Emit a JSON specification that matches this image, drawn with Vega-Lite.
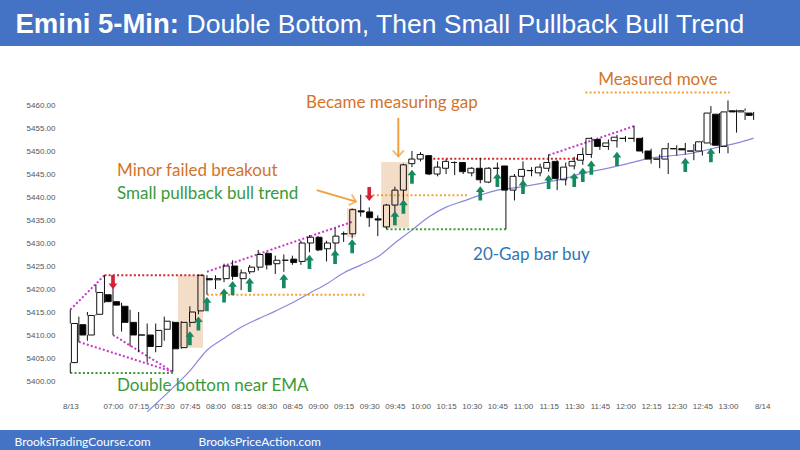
{
  "$schema": "https://vega.github.io/schema/vega-lite/v6.json",
  "width": 800,
  "height": 384,
  "autosize": {"type": "none"},
  "padding": {"top": 46, "bottom": 20, "left": 0, "right": 0},
  "background": "#4472C4",
  "config": {"view": {"fill": "white", "stroke": null}, "axis": {"grid": false}},
  "datasets": {
    "candles": [
      {"t":"2024-08-13T06:35Z","o":5404,"h":5415.5,"l":5401.75,"c":5412.5},
      {"t":"2024-08-13T06:40Z","o":5412.25,"h":5414,"l":5408.5,"c":5410},
      {"t":"2024-08-13T06:45Z","o":5410,"h":5415,"l":5408.75,"c":5414.25},
      {"t":"2024-08-13T06:50Z","o":5414.5,"h":5421,"l":5414.25,"c":5419.25},
      {"t":"2024-08-13T06:55Z","o":5418.75,"h":5423,"l":5417,"c":5417.25},
      {"t":"2024-08-13T07:00Z","o":5417.25,"h":5420.5,"l":5410,"c":5416.5},
      {"t":"2024-08-13T07:05Z","o":5416.25,"h":5417,"l":5410.75,"c":5412.75},
      {"t":"2024-08-13T07:10Z","o":5412.75,"h":5415.5,"l":5407.5,"c":5410},
      {"t":"2024-08-13T07:15Z","o":5410,"h":5415,"l":5406.25,"c":5410},
      {"t":"2024-08-13T07:20Z","o":5410,"h":5412.5,"l":5404,"c":5407.5},
      {"t":"2024-08-13T07:25Z","o":5407.5,"h":5412.5,"l":5406.25,"c":5411},
      {"t":"2024-08-13T07:30Z","o":5411.25,"h":5414,"l":5408.75,"c":5413},
      {"t":"2024-08-13T07:35Z","o":5412.75,"h":5413,"l":5402,"c":5407},
      {"t":"2024-08-13T07:40Z","o":5407.25,"h":5413,"l":5407,"c":5412.75},
      {"t":"2024-08-13T07:45Z","o":5412.75,"h":5416.25,"l":5411.75,"c":5415},
      {"t":"2024-08-13T07:50Z","o":5415.25,"h":5423,"l":5414.5,"c":5423},
      {"t":"2024-08-13T07:55Z","o":5422.25,"h":5423,"l":5418.75,"c":5422},
      {"t":"2024-08-13T08:00Z","o":5422,"h":5423,"l":5420,"c":5422.25},
      {"t":"2024-08-13T08:05Z","o":5422.25,"h":5425.5,"l":5421.5,"c":5425},
      {"t":"2024-08-13T08:10Z","o":5425,"h":5426.25,"l":5422,"c":5422.75},
      {"t":"2024-08-13T08:15Z","o":5422.25,"h":5424.25,"l":5419.75,"c":5423.5},
      {"t":"2024-08-13T08:20Z","o":5423.75,"h":5425.25,"l":5423.25,"c":5424.75},
      {"t":"2024-08-13T08:25Z","o":5424.75,"h":5428.5,"l":5424,"c":5427.5},
      {"t":"2024-08-13T08:30Z","o":5427.75,"h":5428,"l":5424.25,"c":5425.25},
      {"t":"2024-08-13T08:35Z","o":5425.5,"h":5427.25,"l":5423.25,"c":5426.25},
      {"t":"2024-08-13T08:40Z","o":5426.25,"h":5427.5,"l":5423.75,"c":5426.25},
      {"t":"2024-08-13T08:45Z","o":5426.5,"h":5427.25,"l":5425.25,"c":5425.75},
      {"t":"2024-08-13T08:50Z","o":5426,"h":5430.5,"l":5425.25,"c":5430},
      {"t":"2024-08-13T08:55Z","o":5430,"h":5431.75,"l":5428,"c":5431.25},
      {"t":"2024-08-13T09:00Z","o":5431.25,"h":5431.5,"l":5428.25,"c":5428.5},
      {"t":"2024-08-13T09:05Z","o":5428.75,"h":5430.5,"l":5426,"c":5430},
      {"t":"2024-08-13T09:10Z","o":5430,"h":5433.25,"l":5428,"c":5431.5},
      {"t":"2024-08-13T09:15Z","o":5432,"h":5432.5,"l":5430.25,"c":5432},
      {"t":"2024-08-13T09:20Z","o":5432,"h":5437.5,"l":5431,"c":5437.25},
      {"t":"2024-08-13T09:25Z","o":5437,"h":5440.5,"l":5435.75,"c":5436.75},
      {"t":"2024-08-13T09:30Z","o":5436.75,"h":5437.75,"l":5433.5,"c":5435.5},
      {"t":"2024-08-13T09:35Z","o":5435.25,"h":5436,"l":5431.5,"c":5435},
      {"t":"2024-08-13T09:40Z","o":5433.5,"h":5438.5,"l":5433,"c":5438.25},
      {"t":"2024-08-13T09:45Z","o":5438.25,"h":5442.25,"l":5436.75,"c":5441.5},
      {"t":"2024-08-13T09:50Z","o":5441.5,"h":5447.25,"l":5439,"c":5447},
      {"t":"2024-08-13T09:55Z","o":5447.25,"h":5450,"l":5446.5,"c":5448.25},
      {"t":"2024-08-13T10:00Z","o":5448.25,"h":5449.75,"l":5447.75,"c":5449.25},
      {"t":"2024-08-13T10:05Z","o":5449,"h":5449,"l":5444.75,"c":5445},
      {"t":"2024-08-13T10:10Z","o":5445,"h":5447.75,"l":5444.5,"c":5446.5},
      {"t":"2024-08-13T10:15Z","o":5446.25,"h":5448.25,"l":5445,"c":5447.75},
      {"t":"2024-08-13T10:20Z","o":5447.5,"h":5447.75,"l":5444.75,"c":5447.5},
      {"t":"2024-08-13T10:25Z","o":5447.5,"h":5447.5,"l":5445,"c":5445.5},
      {"t":"2024-08-13T10:30Z","o":5445.25,"h":5446.5,"l":5444.5,"c":5446.25},
      {"t":"2024-08-13T10:35Z","o":5446.25,"h":5448.5,"l":5443,"c":5443.75},
      {"t":"2024-08-13T10:40Z","o":5443.25,"h":5446.5,"l":5443,"c":5446.25},
      {"t":"2024-08-13T10:45Z","o":5446.25,"h":5447.5,"l":5445,"c":5446.25},
      {"t":"2024-08-13T10:50Z","o":5446.75,"h":5446.75,"l":5433,"c":5441.5},
      {"t":"2024-08-13T10:55Z","o":5441.5,"h":5445,"l":5439.25,"c":5444.5},
      {"t":"2024-08-13T11:00Z","o":5444.5,"h":5447.75,"l":5443.25,"c":5446},
      {"t":"2024-08-13T11:05Z","o":5445.75,"h":5446.5,"l":5444.5,"c":5445.75},
      {"t":"2024-08-13T11:10Z","o":5445.25,"h":5447.25,"l":5444.5,"c":5446.5},
      {"t":"2024-08-13T11:15Z","o":5446.25,"h":5449.25,"l":5445.5,"c":5447.5},
      {"t":"2024-08-13T11:20Z","o":5447.75,"h":5448,"l":5441.5,"c":5444},
      {"t":"2024-08-13T11:25Z","o":5443.75,"h":5447.5,"l":5442.5,"c":5446.5},
      {"t":"2024-08-13T11:30Z","o":5446.75,"h":5448.75,"l":5446,"c":5447.75},
      {"t":"2024-08-13T11:35Z","o":5448,"h":5450.75,"l":5447,"c":5449.25},
      {"t":"2024-08-13T11:40Z","o":5449.25,"h":5453,"l":5448.5,"c":5452.75},
      {"t":"2024-08-13T11:45Z","o":5452.5,"h":5452.75,"l":5450.25,"c":5451},
      {"t":"2024-08-13T11:50Z","o":5451,"h":5452.5,"l":5450.25,"c":5451.75},
      {"t":"2024-08-13T11:55Z","o":5452.25,"h":5453.5,"l":5450.75,"c":5453},
      {"t":"2024-08-13T12:00Z","o":5452.75,"h":5453.25,"l":5452,"c":5452.75},
      {"t":"2024-08-13T12:05Z","o":5452.75,"h":5455.5,"l":5452,"c":5452.75},
      {"t":"2024-08-13T12:10Z","o":5452.75,"h":5453,"l":5449.5,"c":5450},
      {"t":"2024-08-13T12:15Z","o":5450,"h":5450.5,"l":5447.25,"c":5448.25},
      {"t":"2024-08-13T12:20Z","o":5448.25,"h":5449.25,"l":5446.25,"c":5448.25},
      {"t":"2024-08-13T12:25Z","o":5448.25,"h":5451.75,"l":5445,"c":5450.5},
      {"t":"2024-08-13T12:30Z","o":5450.5,"h":5451.25,"l":5449,"c":5450.5},
      {"t":"2024-08-13T12:35Z","o":5450.5,"h":5451.75,"l":5449.25,"c":5450.25},
      {"t":"2024-08-13T12:40Z","o":5450,"h":5451.5,"l":5448,"c":5450},
      {"t":"2024-08-13T12:45Z","o":5450,"h":5452.25,"l":5449,"c":5452},
      {"t":"2024-08-13T12:50Z","o":5451.75,"h":5459.75,"l":5451.25,"c":5458.25},
      {"t":"2024-08-13T12:55Z","o":5458,"h":5458.25,"l":5449.5,"c":5451.25},
      {"t":"2024-08-13T13:00Z","o":5451,"h":5461,"l":5449.5,"c":5458.5},
      {"t":"2024-08-13T13:05Z","o":5458.75,"h":5459,"l":5454,"c":5458.5},
      {"t":"2024-08-13T13:10Z","o":5458.5,"h":5459.25,"l":5456.75,"c":5458.75},
      {"t":"2024-08-13T13:15Z","o":5458.25,"h":5458.5,"l":5456.75,"c":5457.75}
    ],
    "ema": [
      {"t":"2024-08-13T07:20Z","p":5393.3},{"t":"2024-08-13T07:25Z","p":5395},{"t":"2024-08-13T07:35Z","p":5398.5},{"t":"2024-08-13T07:45Z","p":5402.2},
      {"t":"2024-08-13T07:55Z","p":5406.7},{"t":"2024-08-13T08:05Z","p":5409.3},{"t":"2024-08-13T08:15Z","p":5411.7},{"t":"2024-08-13T08:25Z","p":5413.5},
      {"t":"2024-08-13T08:35Z","p":5415.2},{"t":"2024-08-13T08:45Z","p":5417},{"t":"2024-08-13T08:55Z","p":5419.1},{"t":"2024-08-13T09:05Z","p":5421.1},
      {"t":"2024-08-13T09:15Z","p":5423.5},{"t":"2024-08-13T09:25Z","p":5425.2},{"t":"2024-08-13T09:35Z","p":5427},{"t":"2024-08-13T09:45Z","p":5430},
      {"t":"2024-08-13T09:55Z","p":5432.8},{"t":"2024-08-13T10:05Z","p":5435.7},{"t":"2024-08-13T10:15Z","p":5437.8},{"t":"2024-08-13T10:25Z","p":5439.1},
      {"t":"2024-08-13T10:35Z","p":5440.4},{"t":"2024-08-13T10:45Z","p":5441.5},{"t":"2024-08-13T10:55Z","p":5442},{"t":"2024-08-13T11:05Z","p":5442.6},
      {"t":"2024-08-13T11:15Z","p":5443.3},{"t":"2024-08-13T11:25Z","p":5444.1},{"t":"2024-08-13T11:35Z","p":5445.2},{"t":"2024-08-13T11:45Z","p":5445.9},
      {"t":"2024-08-13T11:55Z","p":5446.7},{"t":"2024-08-13T12:05Z","p":5447.6},{"t":"2024-08-13T12:15Z","p":5448.5},{"t":"2024-08-13T12:25Z","p":5448.9},
      {"t":"2024-08-13T12:35Z","p":5449.3},{"t":"2024-08-13T12:45Z","p":5450},{"t":"2024-08-13T12:55Z","p":5450.9},{"t":"2024-08-13T13:05Z","p":5451.7},
      {"t":"2024-08-13T13:15Z","p":5452.8}
    ],
    "shades": [
      {"t":"2024-08-13T07:38:00Z","t2":"2024-08-13T07:52:40Z","p":5407.25,"p2":5423},
      {"t":"2024-08-13T09:17:00Z","t2":"2024-08-13T09:22:15Z","p":5431.3,"p2":5437.6},
      {"t":"2024-08-13T09:37:00Z","t2":"2024-08-13T09:53:15Z","p":5433.3,"p2":5447.6}
    ],
    "segs": [
      {"t":"2024-08-13T06:35:00Z","p":5415.5,"t2":"2024-08-13T06:55:00Z","p2":5423,"k":"m"},
      {"t":"2024-08-13T06:40:00Z","p":5408.5,"t2":"2024-08-13T07:35:00Z","p2":5402,"k":"m"},
      {"t":"2024-08-13T07:00:00Z","p":5410,"t2":"2024-08-13T07:35:00Z","p2":5402,"k":"m"},
      {"t":"2024-08-13T07:55:00Z","p":5423.75,"t2":"2024-08-13T09:20:00Z","p2":5434.6,"k":"m"},
      {"t":"2024-08-13T11:15:00Z","p":5449.1,"t2":"2024-08-13T12:05:00Z","p2":5455.4,"k":"m"},
      {"t":"2024-08-13T06:55:00Z","p":5423,"t2":"2024-08-13T07:54:00Z","p2":5423,"k":"r"},
      {"t":"2024-08-13T10:07:30Z","p":5448.3,"t2":"2024-08-13T11:33:00Z","p2":5448.3,"k":"r"},
      {"t":"2024-08-13T07:55:00Z","p":5418.75,"t2":"2024-08-13T09:28:00Z","p2":5418.75,"k":"o"},
      {"t":"2024-08-13T09:32:00Z","p":5440.4,"t2":"2024-08-13T10:27:15Z","p2":5440.4,"k":"o"},
      {"t":"2024-08-13T11:36:30Z","p":5462.7,"t2":"2024-08-13T13:01:00Z","p2":5462.7,"k":"o"},
      {"t":"2024-08-13T06:35:00Z","p":5401.75,"t2":"2024-08-13T07:35:00Z","p2":5401.75,"k":"g"},
      {"t":"2024-08-13T09:40:00Z","p":5433,"t2":"2024-08-13T10:50:00Z","p2":5433,"k":"g"}
    ],
    "arrows": [
      {"t":"2024-08-13T07:45Z","p":5409.3,"d":"u"},{"t":"2024-08-13T07:50Z","p":5412.5,"d":"u"},{"t":"2024-08-13T07:55Z","p":5416.7,"d":"u"},
      {"t":"2024-08-13T08:05Z","p":5418.6,"d":"u"},{"t":"2024-08-13T08:10Z","p":5420.2,"d":"u"},{"t":"2024-08-13T08:20Z","p":5420.9,"d":"u"},
      {"t":"2024-08-13T08:40Z","p":5421.7,"d":"u"},{"t":"2024-08-13T08:55Z","p":5425.9,"d":"u"},{"t":"2024-08-13T09:10Z","p":5427,"d":"u"},
      {"t":"2024-08-13T09:20Z","p":5429.3,"d":"u"},{"t":"2024-08-13T09:45Z","p":5435.4,"d":"u"},{"t":"2024-08-13T09:50Z","p":5437.9,"d":"u"},
      {"t":"2024-08-13T09:55Z","p":5444.4,"d":"u"},{"t":"2024-08-13T10:35Z","p":5440.8,"d":"u"},{"t":"2024-08-13T10:45Z","p":5443.7,"d":"u"},
      {"t":"2024-08-13T11:00Z","p":5442.2,"d":"u"},{"t":"2024-08-13T11:15Z","p":5443.3,"d":"u"},{"t":"2024-08-13T11:30Z","p":5443.7,"d":"u"},
      {"t":"2024-08-13T11:35Z","p":5444.8,"d":"u"},{"t":"2024-08-13T11:40Z","p":5446.4,"d":"u"},{"t":"2024-08-13T11:55Z","p":5448.3,"d":"u"},
      {"t":"2024-08-13T12:35Z","p":5447,"d":"u"},{"t":"2024-08-13T12:50Z","p":5449.1,"d":"u"},
      {"t":"2024-08-13T07:00Z","p":5421.5,"d":"d"},{"t":"2024-08-13T09:30Z","p":5440.65,"d":"d"}
    ],
    "pointers": [
      {"t":"2024-08-13T09:47:00Z","p":5457.2,"t2":"2024-08-13T09:47:00Z","p2":5448.8,"k":"v"},
      {"t":"2024-08-13T08:59:15Z","p":5441.5,"t2":"2024-08-13T09:22:15Z","p2":5439,"k":"d"}
    ],
    "notes": [
      {"t":"2024-08-13T08:53:00Z","p":5460.4,"text":"Became measuring gap","k":"orange"},
      {"t":"2024-08-13T07:02:20Z","p":5445.65,"text":"Minor failed breakout","k":"orange"},
      {"t":"2024-08-13T07:02:20Z","p":5440.65,"text":"Small pullback bull trend","k":"green"},
      {"t":"2024-08-13T07:02:20Z","p":5398.9,"text":"Double bottom near EMA","k":"green"},
      {"t":"2024-08-13T10:30:45Z","p":5427.4,"text":"20-Gap bar buy","k":"blue"},
      {"t":"2024-08-13T11:44:00Z","p":5465.4,"text":"Measured move","k":"orange"}
    ]
  },
  "resolve": {"scale": {"x": "independent", "y": "independent"}, "axis": {"x": "independent", "y": "independent"}},
  "layer": [
    {
      "data": {"name": "shades"},
      "mark": {"type": "rect", "color": "#F3DCC8"},
      "encoding": {
        "x": {"field": "t", "type": "temporal", "axis": null, "scale": {"type": "utc", "domain": [{"year":2024,"month":8,"date":13,"hours":5,"minutes":53,"seconds":51,"utc":true},{"year":2024,"month":8,"date":13,"hours":13,"minutes":42,"seconds":9,"utc":true}]}},
        "x2": {"field": "t2"},
        "y": {"field": "p", "type": "quantitative", "axis": null, "scale": {"domain": [5389.35, 5472.83], "zero": false, "nice": false}},
        "y2": {"field": "p2"}
      }
    },
    {
      "data": {"name": "ema"},
      "mark": {"type": "line", "color": "#8C88DA", "strokeWidth": 1.2, "interpolate": "monotone"},
      "encoding": {
        "x": {"field": "t", "type": "temporal", "axis": null, "scale": {"type": "utc", "domain": [{"year":2024,"month":8,"date":13,"hours":5,"minutes":53,"seconds":51,"utc":true},{"year":2024,"month":8,"date":13,"hours":13,"minutes":42,"seconds":9,"utc":true}]}},
        "y": {"field": "p", "type": "quantitative", "axis": null, "scale": {"domain": [5389.35, 5472.83], "zero": false, "nice": false}}
      }
    },
    {
      "data": {"name": "segs"},
      "mark": {"type": "rule", "strokeWidth": 2, "strokeDash": [2, 2.2]},
      "encoding": {
        "x": {"field": "t", "type": "temporal", "axis": null, "scale": {"type": "utc", "domain": [{"year":2024,"month":8,"date":13,"hours":5,"minutes":53,"seconds":51,"utc":true},{"year":2024,"month":8,"date":13,"hours":13,"minutes":42,"seconds":9,"utc":true}]}},
        "x2": {"field": "t2"},
        "y": {"field": "p", "type": "quantitative", "axis": null, "scale": {"domain": [5389.35, 5472.83], "zero": false, "nice": false}},
        "y2": {"field": "p2"},
        "stroke": {"field": "k", "type": "nominal", "legend": null, "scale": {"domain": ["m", "r", "o", "g"], "range": ["#CC33CC", "#D42A2A", "#F2A23C", "#3A9A3A"]}}
      }
    },
    {
      "data": {"name": "candles"},
      "transform": [{"filter": "datum.c < datum.o"}],
      "mark": {"type": "rule", "color": "#111111", "strokeWidth": 1},
      "encoding": {
        "x": {
          "field": "t", "type": "temporal",
          "scale": {"type": "utc", "domain": [{"year":2024,"month":8,"date":13,"hours":5,"minutes":53,"seconds":51,"utc":true},{"year":2024,"month":8,"date":13,"hours":13,"minutes":42,"seconds":9,"utc":true}]},
          "axis": {
            "orient": "bottom", "offset": -28, "domain": false, "ticks": false, "tickSize": 0, "labelPadding": 0,
            "labelFont": "Liberation Sans", "labelFontSize": 8, "labelColor": "#555555", "labelFlush": false, "labelOverlap": false,
            "values": [
              {"year":2024,"month":8,"date":13,"hours":6,"minutes":35,"utc":true},
              {"year":2024,"month":8,"date":13,"hours":7,"minutes":0,"utc":true},
              {"year":2024,"month":8,"date":13,"hours":7,"minutes":15,"utc":true},
              {"year":2024,"month":8,"date":13,"hours":7,"minutes":30,"utc":true},
              {"year":2024,"month":8,"date":13,"hours":7,"minutes":45,"utc":true},
              {"year":2024,"month":8,"date":13,"hours":8,"minutes":0,"utc":true},
              {"year":2024,"month":8,"date":13,"hours":8,"minutes":15,"utc":true},
              {"year":2024,"month":8,"date":13,"hours":8,"minutes":30,"utc":true},
              {"year":2024,"month":8,"date":13,"hours":8,"minutes":45,"utc":true},
              {"year":2024,"month":8,"date":13,"hours":9,"minutes":0,"utc":true},
              {"year":2024,"month":8,"date":13,"hours":9,"minutes":15,"utc":true},
              {"year":2024,"month":8,"date":13,"hours":9,"minutes":30,"utc":true},
              {"year":2024,"month":8,"date":13,"hours":9,"minutes":45,"utc":true},
              {"year":2024,"month":8,"date":13,"hours":10,"minutes":0,"utc":true},
              {"year":2024,"month":8,"date":13,"hours":10,"minutes":15,"utc":true},
              {"year":2024,"month":8,"date":13,"hours":10,"minutes":30,"utc":true},
              {"year":2024,"month":8,"date":13,"hours":10,"minutes":45,"utc":true},
              {"year":2024,"month":8,"date":13,"hours":11,"minutes":0,"utc":true},
              {"year":2024,"month":8,"date":13,"hours":11,"minutes":15,"utc":true},
              {"year":2024,"month":8,"date":13,"hours":11,"minutes":30,"utc":true},
              {"year":2024,"month":8,"date":13,"hours":11,"minutes":45,"utc":true},
              {"year":2024,"month":8,"date":13,"hours":12,"minutes":0,"utc":true},
              {"year":2024,"month":8,"date":13,"hours":12,"minutes":15,"utc":true},
              {"year":2024,"month":8,"date":13,"hours":12,"minutes":30,"utc":true},
              {"year":2024,"month":8,"date":13,"hours":12,"minutes":45,"utc":true},
              {"year":2024,"month":8,"date":13,"hours":13,"minutes":0,"utc":true},
              {"year":2024,"month":8,"date":13,"hours":13,"minutes":20,"utc":true}
            ],
            "labelExpr": "utcFormat(datum.value, '%H:%M') == '06:35' ? '8/13' : (utcFormat(datum.value, '%H:%M') == '13:20' ? '8/14' : utcFormat(datum.value, '%H:%M'))",
            "title": "BrooksTradingCourse.com", "titleX": 14, "titleY": 43.5, "titleAlign": "left", "titleAnchor": "start", "titleAngle": 0,
            "titleBaseline": "alphabetic", "titleColor": "white", "titleFont": "Lato", "titleFontSize": 12, "titleFontWeight": "normal"
          }
        },
        "y": {
          "field": "l", "type": "quantitative",
          "scale": {"domain": [5389.35, 5472.83], "zero": false, "nice": false},
          "axis": {
            "orient": "left", "offset": -57, "domain": false, "ticks": false, "tickSize": 0, "labelPadding": 2,
            "values": [5400, 5405, 5410, 5415, 5420, 5425, 5430, 5435, 5440, 5445, 5450, 5455, 5460],
            "format": ".2f", "labelFont": "Liberation Sans", "labelFontSize": 8, "labelColor": "#555555",
            "title": "Emini 5-Min:", "titleX": -42, "titleY": -14, "titleAngle": 0, "titleAlign": "left", "titleAnchor": "start",
            "titleBaseline": "alphabetic", "titleColor": "white", "titleFont": "Liberation Sans", "titleFontSize": 27.5, "titleFontWeight": "bold"
          }
        },
        "y2": {"field": "h"}
      }
    },
    {
      "data": {"values": [{"t": "2024-08-13T06:35Z", "p": 5400}]},
      "mark": {"type": "point", "opacity": 0},
      "encoding": {
        "x": {
          "field": "t", "type": "temporal",
          "scale": {"type": "utc", "domain": [{"year":2024,"month":8,"date":13,"hours":5,"minutes":53,"seconds":51,"utc":true},{"year":2024,"month":8,"date":13,"hours":13,"minutes":42,"seconds":9,"utc":true}]},
          "axis": {
            "orient": "top", "labels": false, "ticks": false, "domain": false,
            "title": "Double Bottom, Then Small Pullback Bull Trend", "titleX": 186, "titleY": -14, "titleAlign": "left", "titleAnchor": "start",
            "titleAngle": 0, "titleBaseline": "alphabetic", "titleColor": "white", "titleFont": "Liberation Sans", "titleFontSize": 26.5, "titleFontWeight": "normal"
          }
        },
        "y": {
          "field": "p", "type": "quantitative",
          "scale": {"domain": [5389.35, 5472.83], "zero": false, "nice": false},
          "axis": {
            "orient": "right", "labels": false, "ticks": false, "domain": false,
            "title": "BrooksPriceAction.com", "titleX": -602, "titleY": 399.5, "titleAlign": "left", "titleAnchor": "start",
            "titleAngle": 0, "titleBaseline": "alphabetic", "titleColor": "white", "titleFont": "Lato", "titleFontSize": 12, "titleFontWeight": "normal"
          }
        }
      }
    },
    {
      "data": {"name": "candles"},
      "transform": [{"filter": "datum.c >= datum.o"}],
      "mark": {"type": "rule", "color": "#111111", "strokeWidth": 1},
      "encoding": {
        "x": {"field": "t", "type": "temporal", "axis": null, "scale": {"type": "utc", "domain": [{"year":2024,"month":8,"date":13,"hours":5,"minutes":53,"seconds":51,"utc":true},{"year":2024,"month":8,"date":13,"hours":13,"minutes":42,"seconds":9,"utc":true}]}},
        "y": {"field": "l", "type": "quantitative", "axis": null, "scale": {"domain": [5389.35, 5472.83], "zero": false, "nice": false}},
        "y2": {"field": "o"}
      }
    },
    {
      "data": {"name": "candles"},
      "transform": [{"filter": "datum.c >= datum.o"}],
      "mark": {"type": "rule", "color": "#111111", "strokeWidth": 1},
      "encoding": {
        "x": {"field": "t", "type": "temporal", "axis": null, "scale": {"type": "utc", "domain": [{"year":2024,"month":8,"date":13,"hours":5,"minutes":53,"seconds":51,"utc":true},{"year":2024,"month":8,"date":13,"hours":13,"minutes":42,"seconds":9,"utc":true}]}},
        "y": {"field": "c", "type": "quantitative", "axis": null, "scale": {"domain": [5389.35, 5472.83], "zero": false, "nice": false}},
        "y2": {"field": "h"}
      }
    },
    {
      "data": {"name": "candles"},
      "mark": {"type": "bar", "size": 6, "stroke": "#111111", "strokeWidth": 1},
      "encoding": {
        "x": {"field": "t", "type": "temporal", "axis": null, "scale": {"type": "utc", "domain": [{"year":2024,"month":8,"date":13,"hours":5,"minutes":53,"seconds":51,"utc":true},{"year":2024,"month":8,"date":13,"hours":13,"minutes":42,"seconds":9,"utc":true}]}},
        "y": {"field": "o", "type": "quantitative", "axis": null, "scale": {"domain": [5389.35, 5472.83], "zero": false, "nice": false}},
        "y2": {"field": "c"},
        "fill": {"condition": {"test": "datum.c < datum.o", "value": "#000000"}, "value": "transparent"}
      }
    },
    {
      "data": {"name": "arrows"},
      "transform": [{"filter": "datum.d == 'u'"}],
      "mark": {"type": "point", "filled": true, "opacity": 1, "color": "#148A5E", "size": 200, "shape": "M0,-1 L0.62,-0.2 L0.26,-0.2 L0.26,1 L-0.26,1 L-0.26,-0.2 L-0.62,-0.2 Z"},
      "encoding": {
        "x": {"field": "t", "type": "temporal", "axis": null, "scale": {"type": "utc", "domain": [{"year":2024,"month":8,"date":13,"hours":5,"minutes":53,"seconds":51,"utc":true},{"year":2024,"month":8,"date":13,"hours":13,"minutes":42,"seconds":9,"utc":true}]}},
        "y": {"field": "p", "type": "quantitative", "axis": null, "scale": {"domain": [5389.35, 5472.83], "zero": false, "nice": false}}
      }
    },
    {
      "data": {"name": "arrows"},
      "transform": [{"filter": "datum.d == 'd'"}],
      "mark": {"type": "point", "filled": true, "opacity": 1, "color": "#D3223C", "size": 200, "shape": "M0,1 L0.62,0.2 L0.26,0.2 L0.26,-1 L-0.26,-1 L-0.26,0.2 L-0.62,0.2 Z"},
      "encoding": {
        "x": {"field": "t", "type": "temporal", "axis": null, "scale": {"type": "utc", "domain": [{"year":2024,"month":8,"date":13,"hours":5,"minutes":53,"seconds":51,"utc":true},{"year":2024,"month":8,"date":13,"hours":13,"minutes":42,"seconds":9,"utc":true}]}},
        "y": {"field": "p", "type": "quantitative", "axis": null, "scale": {"domain": [5389.35, 5472.83], "zero": false, "nice": false}}
      }
    },
    {
      "data": {"name": "pointers"},
      "mark": {"type": "rule", "color": "#F2A03E", "strokeWidth": 2},
      "encoding": {
        "x": {"field": "t", "type": "temporal", "axis": null, "scale": {"type": "utc", "domain": [{"year":2024,"month":8,"date":13,"hours":5,"minutes":53,"seconds":51,"utc":true},{"year":2024,"month":8,"date":13,"hours":13,"minutes":42,"seconds":9,"utc":true}]}},
        "x2": {"field": "t2"},
        "y": {"field": "p", "type": "quantitative", "axis": null, "scale": {"domain": [5389.35, 5472.83], "zero": false, "nice": false}},
        "y2": {"field": "p2"}
      }
    },
    {
      "data": {"name": "pointers"},
      "transform": [{"filter": "datum.k == 'v'"}],
      "mark": {"type": "point", "filled": false, "color": "#F2A03E", "strokeWidth": 2, "size": 150, "angle": 90, "shape": "M-1,-0.9 L0,0 L-1,0.9"},
      "encoding": {
        "x": {"field": "t2", "type": "temporal", "axis": null, "scale": {"type": "utc", "domain": [{"year":2024,"month":8,"date":13,"hours":5,"minutes":53,"seconds":51,"utc":true},{"year":2024,"month":8,"date":13,"hours":13,"minutes":42,"seconds":9,"utc":true}]}},
        "y": {"field": "p2", "type": "quantitative", "axis": null, "scale": {"domain": [5389.35, 5472.83], "zero": false, "nice": false}}
      }
    },
    {
      "data": {"name": "pointers"},
      "transform": [{"filter": "datum.k == 'd'"}],
      "mark": {"type": "point", "filled": false, "color": "#F2A03E", "strokeWidth": 2, "size": 150, "angle": 16.6, "shape": "M-1,-0.9 L0,0 L-1,0.9"},
      "encoding": {
        "x": {"field": "t2", "type": "temporal", "axis": null, "scale": {"type": "utc", "domain": [{"year":2024,"month":8,"date":13,"hours":5,"minutes":53,"seconds":51,"utc":true},{"year":2024,"month":8,"date":13,"hours":13,"minutes":42,"seconds":9,"utc":true}]}},
        "y": {"field": "p2", "type": "quantitative", "axis": null, "scale": {"domain": [5389.35, 5472.83], "zero": false, "nice": false}}
      }
    },
    {
      "data": {"name": "notes"},
      "mark": {"type": "text", "align": "left", "baseline": "middle", "font": "Lato", "fontSize": 17},
      "encoding": {
        "x": {"field": "t", "type": "temporal", "axis": null, "scale": {"type": "utc", "domain": [{"year":2024,"month":8,"date":13,"hours":5,"minutes":53,"seconds":51,"utc":true},{"year":2024,"month":8,"date":13,"hours":13,"minutes":42,"seconds":9,"utc":true}]}},
        "y": {"field": "p", "type": "quantitative", "axis": null, "scale": {"domain": [5389.35, 5472.83], "zero": false, "nice": false}},
        "text": {"field": "text"},
        "color": {"field": "k", "type": "nominal", "legend": null, "scale": {"domain": ["orange", "green", "blue"], "range": ["#D2742A", "#3A9A3A", "#2E75B6"]}}
      }
    }
  ]
}
